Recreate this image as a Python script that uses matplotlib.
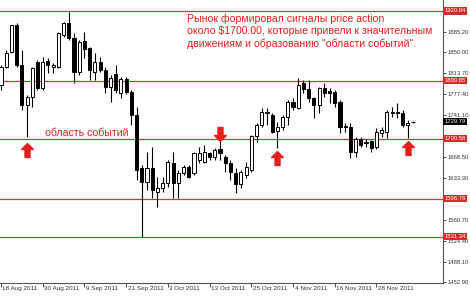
import numpy as np
import matplotlib.pyplot as plt
import matplotlib.transforms as mtransforms
from matplotlib.path import Path

plt.rcParams['font.family'] = ['Liberation Sans', 'DejaVu Sans']

# Дневные свечи XAUUSD, 18 Aug 2011 - 7 Dec 2011
opens = [1793.2, 1824.3, 1850.2, 1896.7, 1827.7, 1758.7, 1772.5, 1832.9, 1788.0, 1834.6,
         1824.3, 1824.3, 1879.5, 1900.2, 1874.3, 1815.6, 1869.1, 1857.1, 1815.6, 1832.9,
         1819.1, 1789.7, 1812.2, 1779.4, 1803.5, 1781.1, 1741.4, 1649.9, 1625.8, 1649.9,
         1608.5, 1615.4, 1624.2, 1658.6, 1624.2, 1641.3, 1651.7, 1641.3, 1663.7, 1660.3,
         1675.8, 1668.9, 1682.7, 1668.9, 1658.6, 1641.3, 1622.3, 1637.9, 1646.5, 1705.2,
         1724.2, 1744.9, 1741.4, 1713.8, 1720.7, 1738.0, 1763.8, 1753.5, 1796.6, 1786.3,
         1770.8, 1758.7, 1788.0, 1782.8, 1781.1, 1763.8, 1720.7, 1720.7, 1677.5, 1700.0,
         1693.1, 1696.5, 1686.2, 1710.3, 1712.1, 1746.6, 1746.6, 1744.9, 1724.2, 1729.0]
highs = [1827.7, 1853.6, 1897.5, 1900.2, 1853.6, 1775.9, 1824.3, 1836.3, 1841.5, 1839.8,
         1831.2, 1884.7, 1901.9, 1919.2, 1882.9, 1870.9, 1884.7, 1858.8, 1848.4, 1841.5,
         1824.3, 1810.5, 1827.7, 1807.0, 1807.0, 1784.6, 1755.2, 1655.1, 1677.5, 1686.2,
         1634.4, 1634.4, 1663.7, 1677.5, 1646.5, 1655.1, 1655.1, 1677.5, 1686.2, 1689.6,
         1677.5, 1684.5, 1698.3, 1672.4, 1663.7, 1649.9, 1646.5, 1660.3, 1706.9, 1727.6,
         1753.5, 1753.5, 1744.9, 1729.4, 1741.4, 1767.3, 1770.8, 1805.3, 1801.8, 1801.8,
         1772.5, 1789.7, 1796.6, 1788.0, 1784.6, 1767.3, 1727.6, 1727.6, 1703.4, 1703.4,
         1700.0, 1698.3, 1719.0, 1720.7, 1750.0, 1755.2, 1762.1, 1750.0, 1732.8, 1731.1]
lows = [1784.6, 1822.5, 1848.4, 1824.3, 1750.0, 1703.4, 1755.2, 1784.6, 1784.6, 1813.9,
        1813.9, 1822.0, 1876.0, 1870.9, 1796.6, 1810.5, 1839.8, 1801.8, 1801.8, 1815.6,
        1779.4, 1763.8, 1779.4, 1770.8, 1777.7, 1724.2, 1629.2, 1530.8, 1612.0, 1598.1,
        1582.6, 1608.5, 1617.1, 1598.1, 1598.1, 1637.9, 1632.7, 1637.9, 1658.6, 1658.6,
        1663.7, 1663.7, 1663.7, 1643.0, 1629.2, 1606.8, 1615.4, 1632.7, 1643.0, 1694.8,
        1720.7, 1724.2, 1710.3, 1684.5, 1715.5, 1724.2, 1750.0, 1751.0, 1779.4, 1763.8,
        1736.2, 1744.9, 1772.5, 1762.1, 1755.2, 1710.3, 1712.1, 1667.2, 1668.9, 1686.2,
        1686.2, 1677.5, 1682.7, 1703.4, 1701.7, 1738.0, 1736.2, 1720.7, 1701.7, 1727.6]
closes = [1824.3, 1848.4, 1896.7, 1827.7, 1758.7, 1772.5, 1822.5, 1788.0, 1832.9, 1827.7,
          1827.7, 1882.9, 1900.2, 1874.3, 1815.6, 1867.4, 1855.3, 1819.1, 1832.9, 1819.1,
          1789.7, 1805.3, 1784.6, 1803.5, 1781.1, 1741.4, 1646.5, 1625.8, 1649.9, 1612.0,
          1615.4, 1624.2, 1660.3, 1624.2, 1641.3, 1651.7, 1634.4, 1675.8, 1675.8, 1677.5,
          1668.9, 1681.0, 1675.8, 1658.6, 1643.0, 1622.3, 1643.0, 1651.7, 1705.2, 1724.2,
          1746.6, 1746.6, 1712.1, 1720.7, 1738.0, 1763.8, 1755.2, 1793.2, 1786.3, 1770.8,
          1758.7, 1788.0, 1779.4, 1779.4, 1762.1, 1720.7, 1722.4, 1677.5, 1700.0, 1689.6,
          1694.8, 1684.5, 1712.1, 1715.5, 1746.6, 1744.9, 1744.9, 1724.2, 1727.6, 1729.8]

# уровни и подписи
levels = [1920.94, 1800.85, 1700.58, 1596.78, 1531.34]
axis_ticks = [1452.90, 1488.10, 1524.40, 1560.70, 1633.30, 1668.50,
              1741.10, 1777.40, 1813.70, 1850.00, 1885.20]
last_price = 1729.79
date_labels = ['18 Aug 2011', '30 Aug 2011', '9 Sep 2011', '21 Sep 2011', '3 Oct 2011',
               '13 Oct 2011', '25 Oct 2011', '4 Nov 2011', '16 Nov 2011', '28 Nov 2011']
date_idx = [0, 8, 16, 24, 32, 40, 48, 56, 64, 72]

# стрелки (индекс свечи, цена)
up_arrow_idx = [5, 53, 78]
up_arrow_y = [1681.0, 1667.0, 1683.6]
down_arrow_idx = [42]
down_arrow_y = [1708.6]

red = '#e3201b'
line_red = '#c83a36'

fig = plt.figure(figsize=(4.7, 2.97), dpi=100)
ax = fig.add_axes([0, 14 / 297, 443 / 470, 283 / 297])

# горизонтальные уровни
for lvl in levels:
    ax.axhline(lvl, color=line_red, lw=0.9, zorder=1)

# свечи
x = np.arange(len(opens))
o = np.array(opens)
c = np.array(closes)
bull = c >= o
ax.vlines(x, lows, highs, color='black', lw=0.8, zorder=2)
ax.bar(x, c - o, bottom=o, width=0.6,
       color=np.where(bull, 'white', 'black'), edgecolor='black', linewidth=0.7, zorder=3)

# стрелки
up_verts = [(0, 1), (0.85, 0.15), (0.36, 0.15), (0.36, -1), (-0.36, -1),
            (-0.36, 0.15), (-0.85, 0.15), (0, 1)]
up_marker = Path(up_verts)
down_marker = Path([(vx, -vy) for vx, vy in up_verts])
ax.plot(up_arrow_idx, up_arrow_y, ls='none', marker=up_marker, ms=10,
        color=red, mec=red, zorder=4)
ax.plot(down_arrow_idx, down_arrow_y, ls='none', marker=down_marker, ms=10,
        color=red, mec=red, zorder=4)

# тексты
ax.text(187 / 443, 1 - 31 / 283,
        'Рынок формировал сигналы price action\n'
        'около $1700.00, которые привели к значительным\n'
        'движениям и образованию "области событий".',
        transform=ax.transAxes, ha='left', va='center', fontsize=7.6,
        color=red, linespacing=1.3)
ax.text(45 / 443, 1 - 133 / 283, 'область событий', transform=ax.transAxes,
        ha='left', va='center', fontsize=7.6, color=red)

# оси
ax.set_xlim(-0.19, 84.76)
ax.set_ylim(1451.4, 1939.9)
for s in ['left', 'top']:
    ax.spines[s].set_visible(False)
for s in ['right', 'bottom']:
    ax.spines[s].set_color('#555555')
    ax.spines[s].set_linewidth(0.8)

ax.yaxis.tick_right()
ax.set_yticks(axis_ticks)
ax.set_yticklabels([f'{v:.2f}' for v in axis_ticks])
ax.tick_params(axis='y', length=2.2, width=0.6, pad=1.0, labelsize=4.2,
               colors='#333333')

ax.set_xticks(date_idx)
ax.set_xticklabels(date_labels)
ax.tick_params(axis='x', length=3, width=0.6, pad=-0.5, labelsize=4.6,
               colors='#333333')
shift = mtransforms.ScaledTranslation(1.5 / 100, 0, fig.dpi_scale_trans)
for lab in ax.get_xticklabels():
    lab.set_ha('left')
    lab.set_transform(lab.get_transform() + shift)

# подписи уровней на шкале
ytr = ax.get_yaxis_transform()
for lvl in levels:
    ax.annotate(f'{lvl:.2f}', xy=(1, lvl), xycoords=ytr, xytext=(1.0, 0),
                textcoords='offset points', ha='left', va='center', fontsize=4.2,
                color='white', annotation_clip=False, zorder=6,
                bbox=dict(boxstyle='square,pad=0.2', fc='#d42d2a', ec='none'))
ax.annotate(f'{last_price:.2f}', xy=(1, last_price), xycoords=ytr, xytext=(1.0, 0),
            textcoords='offset points', ha='left', va='center', fontsize=4.2,
            color='white', annotation_clip=False, zorder=6,
            bbox=dict(boxstyle='square,pad=0.2', fc='black', ec='none'))

fig.savefig('out.png', dpi=100)
